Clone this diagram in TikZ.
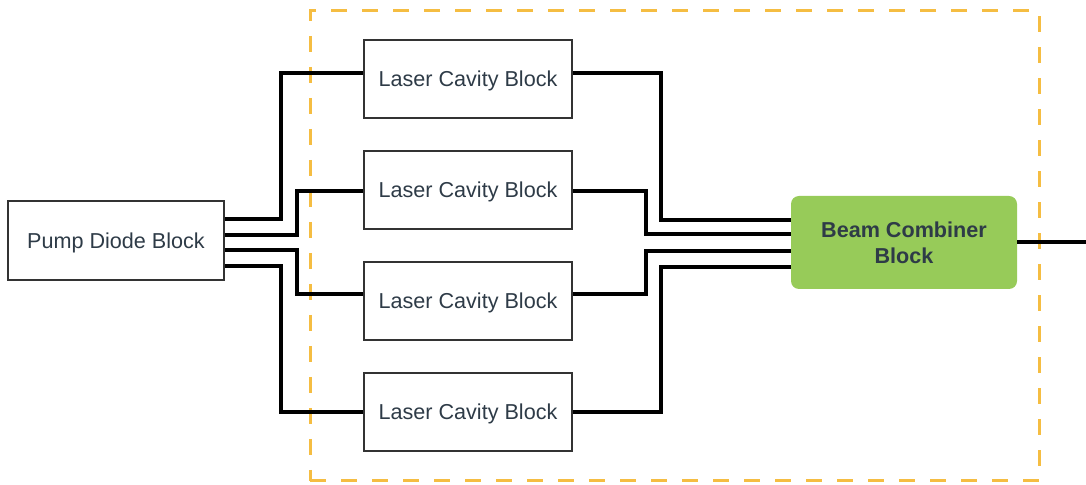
\documentclass[tikz,border=0pt]{standalone}
\usepackage{fontspec}
\setmainfont{Liberation Sans}
\definecolor{textgrey}{HTML}{2E3B47}
\definecolor{boxgreen}{HTML}{97CB59}
\definecolor{dashorange}{HTML}{F5BD42}
\begin{document}
\begin{tikzpicture}
    [
    x=0.5pt,y=-0.5pt,
    block/.style={rectangle,draw=black!80,line width=1pt,fill=white,inner sep=0pt,minimum height=39pt,minimum width=104pt,text depth=0pt,text=textgrey,font=\fontsize{10.8}{13}\selectfont},
    combiner/.style={rectangle,rounded corners=4pt,fill=boxgreen,inner sep=0pt,minimum height=46.5pt,minimum width=113pt,align=center,text=textgrey,font=\fontsize{10.8}{13}\selectfont\bfseries},
    fibre/.style={line width=2pt,black},
    group/.style={rectangle,draw=dashorange,line width=1.5pt,dash pattern=on 8pt off 7.5pt,inner sep=0pt,minimum width=364.5pt,minimum height=235pt}
    ]
    \useasboundingbox (0,0) rectangle (1086,485);
    \node (cluster) at (674.5,246) [group] {};
    \node (pump) at (116,241) [block,minimum width=108pt,minimum height=39.5pt] {Pump Diode Block};
    \node (lc1) at (468,79) [block] {Laser Cavity Block};
    \node (lc2) at (468,190) [block] {Laser Cavity Block};
    \node (lc3) at (468,301) [block] {Laser Cavity Block};
    \node (lc4) at (468,412) [block] {Laser Cavity Block};
    \node (bc) at (904,242.5) [combiner] {Beam Combiner\\Block};
    \coordinate (out) at (1086,242.5);
    % pump to cavities
    \draw [fibre] ([yshift=11pt]pump.east) -- ++(56,0) |- ([yshift=3pt]lc1.west);
    \draw [fibre] ([yshift=3pt]pump.east) -- ++(72,0) |- ([yshift=-0.5pt]lc2.west);
    \draw [fibre] ([yshift=-4.5pt]pump.east) -- ++(72,0) |- ([yshift=3.5pt]lc3.west);
    \draw [fibre] ([yshift=-12.5pt]pump.east) -- ++(56,0) |- (lc4.west);
    % cavities to combiner
    \draw [fibre] ([yshift=3pt]lc1.east) -- ++(88,0) |- ([yshift=11.25pt]bc.west);
    \draw [fibre] ([yshift=-0.5pt]lc2.east) -- ++(73,0) |- ([yshift=4pt]bc.west);
    \draw [fibre] ([yshift=3.5pt]lc3.east) -- ++(73,0) |- ([yshift=-4.25pt]bc.west);
    \draw [fibre] (lc4.east) -- ++(88,0) |- ([yshift=-12.25pt]bc.west);
    \draw [fibre] (bc.east) -- (out);
  \end{tikzpicture}
\end{document}
